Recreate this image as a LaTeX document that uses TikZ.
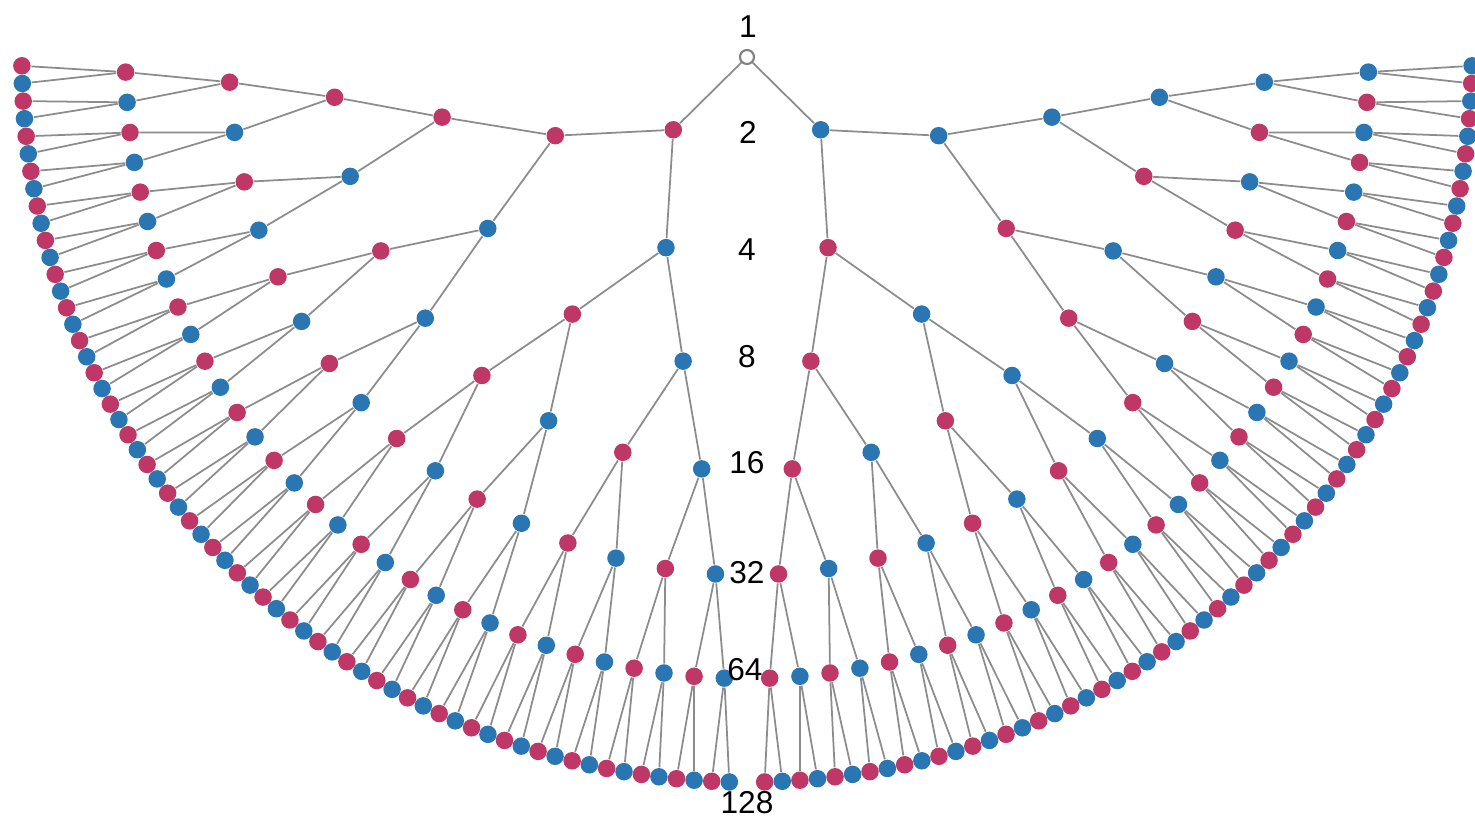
\documentclass[tikz,border=0pt]{standalone}
\usepackage{fontspec}
\setmainfont{Liberation Sans}
\usetikzlibrary{backgrounds}
\definecolor{dotred}{RGB}{190,55,102}
\definecolor{dotblue}{RGB}{42,118,178}
\begin{document}
\begin{tikzpicture}[font={\fontsize{9}{10.8}\selectfont},
	dot/.style={circle,inner sep=0pt,minimum size=0.175cm},
	link/.style={draw=gray!90,line width=0.5pt}]
		%%Khung hình
		\useasboundingbox (-7.47,0.57) rectangle (7.28,-7.67);
		\def \rstep{1.036}
		\def \slot{1.395349}% 180/129
		%%Gốc
		\node[dot,draw=gray,fill=white,minimum size=0.14cm,line width=0.6pt] (n-0-0) at (0,0) {};
		%%Các tầng
		\foreach \d in {1,...,7}{
			\pgfmathtruncatemacro{\nn}{2^\d-1}
			\pgfmathtruncatemacro{\nhalf}{2^(\d-1)}
			\pgfmathtruncatemacro{\wid}{2^(7-\d)}
			\foreach \j in {0,...,\nn}{
				\pgfmathsetmacro{\ang}{180+((\j+0.5)*\wid+(\j>=\nhalf))*\slot}
				\pgfmathtruncatemacro{\odd}{mod(\j,2)}
				\ifnum\odd=0 \def\col{dotred}\else\def\col{dotblue}\fi
				\node[dot,fill=\col] (n-\d-\j) at (\ang:\d*\rstep) {};
			}
		}
		%%Cạnh
		\begin{scope}[on background layer]
			\foreach \d in {1,...,7}{
				\pgfmathtruncatemacro{\nn}{2^\d-1}
				\pgfmathtruncatemacro{\p}{\d-1}
				\foreach \j in {0,...,\nn}{
					\pgfmathtruncatemacro{\q}{floor(\j/2)}
					\draw[link] (n-\p-\q) -- (n-\d-\j);
				}
			}
		\end{scope}
		%%Nhãn
		\node (lab-1) at (0.01,0.30) {1};
		\node (lab-2) at (0.01,-0.75) {2};
		\node (lab-4) at (0,-1.93) {4};
		\node (lab-8) at (0,-3.00) {8};
		\node (lab-16) at (0,-4.06) {16};
		\node (lab-32) at (0,-5.16) {32};
		\node (lab-64) at (-0.02,-6.13) {64};
		\node (lab-128) at (0,-7.46) {128};
	\end{tikzpicture}
\end{document}
